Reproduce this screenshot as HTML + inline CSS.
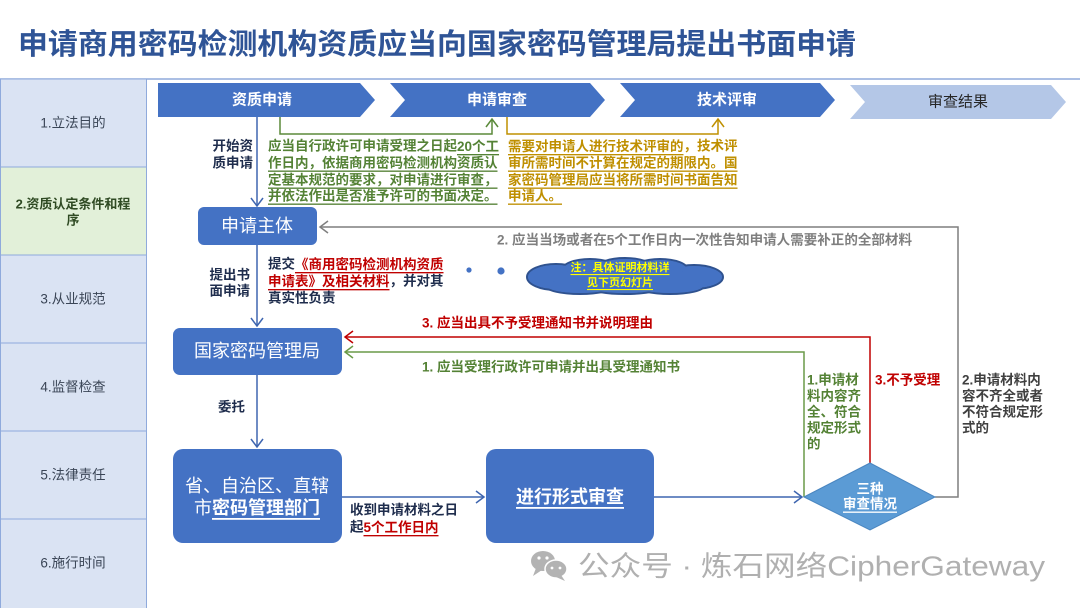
<!DOCTYPE html>
<html><head><meta charset="utf-8">
<style>
html,body{margin:0;padding:0;background:#fff;}
body{width:1080px;height:608px;overflow:hidden;position:relative;}
svg{position:absolute;left:0;top:0;}
text{font-family:"Liberation Sans","Noto Sans CJK SC",sans-serif;}
.b{font-weight:bold;}
.u{text-decoration:underline;}
</style></head>
<body>
<svg width="1080" height="608" viewBox="0 0 1080 608" xmlns="http://www.w3.org/2000/svg">
<!-- Title -->
<text x="18" y="45" dominant-baseline="central" font-size="29" font-weight="bold" fill="#2f5496" textLength="838" lengthAdjust="spacingAndGlyphs">申请商用密码检测机构资质应当向国家密码管理局提出书面申请</text>
<line x1="0" y1="79" x2="1080" y2="79" stroke="#8faadc" stroke-width="1.5"/>

<!-- Sidebar -->
<g stroke="#8faadc" stroke-width="1">
<rect x="0.5" y="79" width="146" height="88" fill="#dae3f3"/>
<rect x="0.5" y="167" width="146" height="88" fill="#e2f0d9"/>
<rect x="0.5" y="255" width="146" height="88" fill="#dae3f3"/>
<rect x="0.5" y="343" width="146" height="88" fill="#dae3f3"/>
<rect x="0.5" y="431" width="146" height="88" fill="#dae3f3"/>
<rect x="0.5" y="519" width="146" height="90" fill="#dae3f3"/>
</g>
<g font-size="13.5" fill="#3a4556" text-anchor="middle" dominant-baseline="central">
<text x="73" y="123">1.立法目的</text>
<text x="73" y="204" font-weight="bold" fill="#2f4a23" font-size="13">2.资质认定条件和程</text>
<text x="73" y="220" font-weight="bold" fill="#2f4a23" font-size="13">序</text>
<text x="73" y="299">3.从业规范</text>
<text x="73" y="387">4.监督检查</text>
<text x="73" y="475">5.法律责任</text>
<text x="73" y="563">6.施行时间</text>
</g>

<!-- Chevrons -->
<polygon points="158,83 360,83 375,100 360,117 158,117" fill="#4472c4"/>
<polygon points="390,83 590,83 605,100 590,117 390,117 405,100" fill="#4472c4"/>
<polygon points="620,83 820,83 835,100 820,117 620,117 635,100" fill="#4472c4"/>
<polygon points="850,85 1051,85 1066,102 1051,119 850,119 865,102" fill="#b4c7e7"/>
<g font-size="15" text-anchor="middle" dominant-baseline="central">
<text x="262" y="100" fill="#fff" font-weight="bold">资质申请</text>
<text x="497" y="100" fill="#fff" font-weight="bold">申请审查</text>
<text x="727" y="100" fill="#fff" font-weight="bold">技术评审</text>
<text x="958" y="102" fill="#262626">审查结果</text>
</g>

<!-- Brackets -->
<polyline points="280,117 280,134 492,134 492,120" fill="none" stroke="#5b8a3a" stroke-width="1.5"/>
<polyline points="486,127 492,119 498,127" fill="none" stroke="#5b8a3a" stroke-width="1.5"/>
<polyline points="507,117 507,134 718,134 718,120" fill="none" stroke="#bf9000" stroke-width="1.5"/>
<polyline points="712,127 718,119 724,127" fill="none" stroke="#bf9000" stroke-width="1.5"/>

<!-- Main vertical blue connectors -->
<g stroke="#3f66b0" stroke-width="1.5" fill="none">
<line x1="257" y1="117" x2="257" y2="206"/>
<polyline points="251,198 257,206 263,198"/>
<line x1="257" y1="245" x2="257" y2="326"/>
<polyline points="251,318 257,326 263,318"/>
<line x1="257" y1="375" x2="257" y2="447"/>
<polyline points="251,439 257,447 263,439"/>
<line x1="342" y1="497" x2="484" y2="497"/>
<polyline points="476,491 484,497 476,503"/>
<line x1="654" y1="497" x2="802" y2="497"/>
<polyline points="794,491 802,497 794,503"/>
</g>

<!-- Side labels -->
<g font-size="13.5" font-weight="bold" fill="#1f2d4d" dominant-baseline="central">
<text x="253" y="146" text-anchor="end">开始资</text>
<text x="253" y="163" text-anchor="end">质申请</text>
<text x="250" y="275" text-anchor="end">提出书</text>
<text x="250" y="291" text-anchor="end">面申请</text>
<text x="218" y="407">委托</text>
</g>

<!-- Green text block -->
<g font-size="13.5" font-weight="bold" fill="#548235" dominant-baseline="central">
<text x="268" y="146">应当自行政许可申请受理之日起<tspan class="u">20个工</tspan></text>
<text x="268" y="163" class="u">作日内，依据商用密码检测机构资质认</text>
<text x="268" y="180" class="u">定基本规范的要求，对申请进行审查，</text>
<text x="268" y="196" class="u">并依法作出是否准予许可的书面决定。</text>
</g>
<!-- Orange text block -->
<g font-size="13.5" font-weight="bold" fill="#bf8f00" dominant-baseline="central">
<text x="508" y="146"><tspan class="u">需要对申请人进行技术评审的</tspan>，技术评</text>
<text x="508" y="163" class="u">审所需时间不计算在规定的期限内。国</text>
<text x="508" y="180" class="u">家密码管理局应当将所需时间书面告知</text>
<text x="508" y="196" class="u">申请人。</text>
</g>

<!-- 申请主体 -->
<rect x="198" y="207" width="119" height="38" rx="6" fill="#4472c4"/>
<text x="257" y="226" font-size="18" fill="#fff" text-anchor="middle" dominant-baseline="central">申请主体</text>

<!-- Gray return -->
<g stroke="#7f7f7f" stroke-width="1.5" fill="none">
<polyline points="935,497 958,497 958,227 320,227"/>
<polyline points="328,221 320,227 328,233"/>
</g>
<text x="497" y="240" font-size="13.5" font-weight="bold" fill="#7f7f7f" dominant-baseline="central" textLength="415" lengthAdjust="spacingAndGlyphs">2. 应当当场或者在5个工作日内一次性告知申请人需要补正的全部材料</text>

<!-- 提交 text -->
<g font-size="13.5" font-weight="bold" fill="#1f2d4d" dominant-baseline="central">
<text x="268" y="264">提交<tspan fill="#c00000" class="u">《商用密码检测机构资质</tspan></text>
<text x="268" y="281"><tspan fill="#c00000" class="u">申请表》及相关材料</tspan>，并对其</text>
<text x="268" y="298">真实性负责</text>
</g>

<!-- dots & cloud -->
<circle cx="469" cy="270" r="2.6" fill="#4472c4"/>
<circle cx="501" cy="271" r="3.6" fill="#4472c4"/>
<g fill="#4472c4" stroke="#2f528f" stroke-width="2">
<ellipse cx="556" cy="277" rx="29" ry="13"/>
<ellipse cx="590" cy="270" rx="28" ry="11"/>
<ellipse cx="625" cy="268" rx="28" ry="10"/>
<ellipse cx="660" cy="270" rx="28" ry="11"/>
<ellipse cx="694" cy="277" rx="29" ry="12"/>
<ellipse cx="580" cy="286" rx="34" ry="8"/>
<ellipse cx="625" cy="288" rx="34" ry="6"/>
<ellipse cx="670" cy="286" rx="34" ry="8"/>
</g>
<g fill="#4472c4">
<ellipse cx="556" cy="277" rx="28" ry="12"/>
<ellipse cx="590" cy="270" rx="27" ry="10"/>
<ellipse cx="625" cy="268" rx="27" ry="9"/>
<ellipse cx="660" cy="270" rx="27" ry="10"/>
<ellipse cx="694" cy="277" rx="28" ry="11"/>
<ellipse cx="580" cy="286" rx="33" ry="7"/>
<ellipse cx="625" cy="288" rx="33" ry="5"/>
<ellipse cx="670" cy="286" rx="33" ry="7"/>
<ellipse cx="625" cy="278" rx="75" ry="10"/>
</g>
<g font-size="11" font-weight="bold" fill="#ffff00" text-anchor="middle" dominant-baseline="central">
<text x="620" y="268" class="u">注：具体证明材料详</text>
<text x="620" y="283" class="u">见下页幻灯片</text>
</g>

<!-- 国家密码管理局 -->
<rect x="173" y="328" width="169" height="47" rx="7" fill="#4472c4"/>
<text x="257" y="351" font-size="18" fill="#fff" text-anchor="middle" dominant-baseline="central">国家密码管理局</text>

<!-- Red & green returns -->
<g stroke="#c00000" stroke-width="1.5" fill="none">
<polyline points="870,463 870,337 345,337"/>
<polyline points="353,331 345,337 353,343"/>
</g>
<g stroke="#6a9a48" stroke-width="1.5" fill="none">
<polyline points="804,497 804,352 345,352"/>
<polyline points="353,346 345,352 353,358"/>
</g>
<text x="422" y="323" font-size="13.5" font-weight="bold" fill="#c00000" dominant-baseline="central">3. 应当出具不予受理通知书并说明理由</text>
<text x="422" y="367" font-size="13.5" font-weight="bold" fill="#548235" dominant-baseline="central">1. 应当受理行政许可申请并出具受理通知书</text>

<!-- Side condition labels -->
<g font-size="13.5" font-weight="bold" dominant-baseline="central">
<g fill="#548235">
<text x="807" y="380">1.申请材</text>
<text x="807" y="396">料内容齐</text>
<text x="807" y="412">全、符合</text>
<text x="807" y="428">规定形式</text>
<text x="807" y="444">的</text>
</g>
<text x="875" y="380" fill="#c00000">3.不予受理</text>
<g fill="#404040">
<text x="962" y="380">2.申请材料内</text>
<text x="962" y="396">容不齐全或者</text>
<text x="962" y="412">不符合规定形</text>
<text x="962" y="428">式的</text>
</g>
</g>

<!-- 省 box -->
<rect x="173" y="449" width="169" height="94" rx="10" fill="#4472c4"/>
<g font-size="18" fill="#fff" text-anchor="middle" dominant-baseline="central">
<text x="257" y="486">省、自治区、直辖</text>
<text x="257" y="508">市<tspan font-weight="bold" class="u">密码管理部门</tspan></text>
</g>

<!-- 收到 text -->
<g font-size="13.5" font-weight="bold" fill="#1f2d4d" dominant-baseline="central">
<text x="350" y="510">收到申请材料之日</text>
<text x="350" y="527">起<tspan fill="#c00000" class="u">5个工作日内</tspan></text>
</g>

<!-- 进行形式审查 -->
<rect x="486" y="449" width="168" height="94" rx="10" fill="#4472c4"/>
<text x="570" y="497" font-size="18" font-weight="bold" fill="#fff" text-anchor="middle" dominant-baseline="central" class="u">进行形式审查</text>

<!-- Diamond -->
<polygon points="804,497 870,463 935,497 870,530" fill="#5b9bd5" stroke="#4a86c0" stroke-width="1"/>
<g font-size="13.5" font-weight="bold" fill="#fff" text-anchor="middle" dominant-baseline="central">
<text x="870" y="489">三种</text>
<text x="870" y="504" class="u">审查情况</text>
</g>

<!-- Watermark -->
<g fill="#b3b3b3">
<ellipse cx="543" cy="561" rx="12" ry="10"/>
<polygon points="536,568 533,576 542,570"/>
<ellipse cx="556" cy="569" rx="11" ry="9" stroke="#fff" stroke-width="1.5"/>
<polygon points="561,575 565,581 556,577"/>
</g>
<g fill="#fff">
<circle cx="539" cy="558" r="1.6"/><circle cx="547" cy="558" r="1.6"/>
<circle cx="552" cy="568" r="1.4"/><circle cx="560" cy="568" r="1.4"/>
</g>
<text x="578" y="566" font-size="28" fill="#b0b0b0" dominant-baseline="central" textLength="467" lengthAdjust="spacingAndGlyphs">公众号 · 炼石网络CipherGateway</text>
</svg>
</body></html>
